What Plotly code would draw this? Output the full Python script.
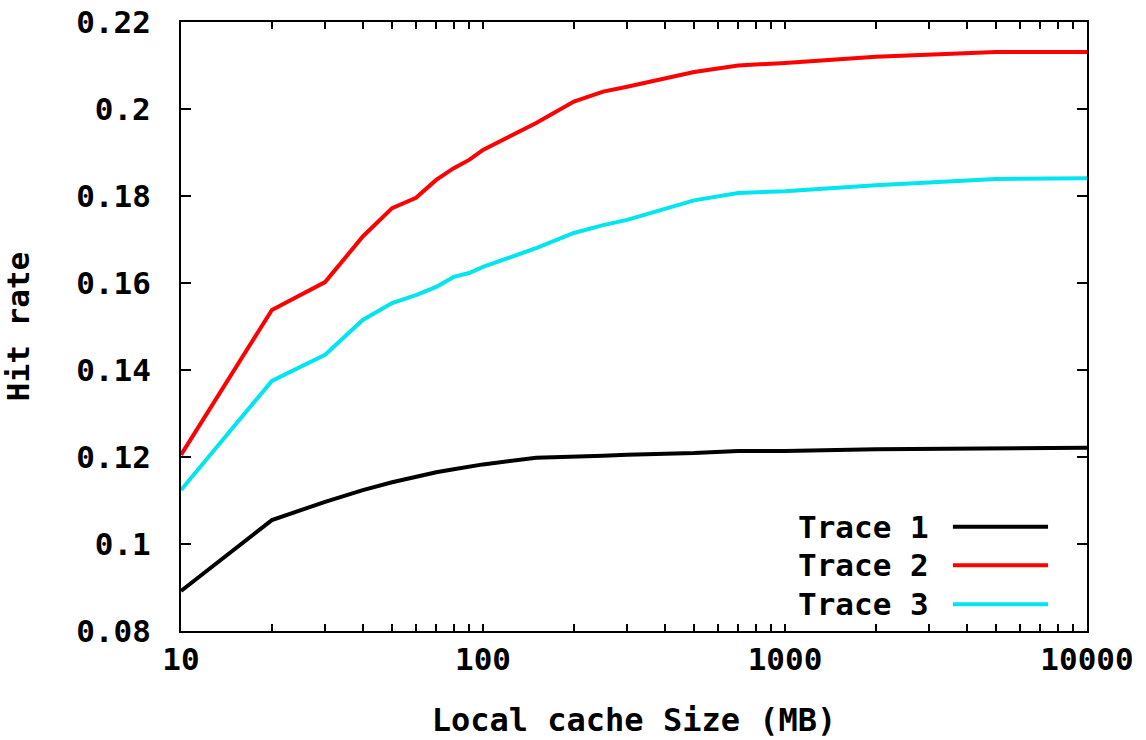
import plotly.graph_objects as go

cache_mb = [10, 20, 30, 40, 50, 60, 70, 80, 90, 100, 150, 200, 250, 300, 500, 700, 1000, 2000, 5000, 10000]
trace1 = [0.0892, 0.1055, 0.1097, 0.1124, 0.1142, 0.1155, 0.1165, 0.1172, 0.1178, 0.1183, 0.1198, 0.1202, 0.1203, 0.1205, 0.1209, 0.1214, 0.1214, 0.1218, 0.1221, 0.1221]
trace2 = [0.1205, 0.1538, 0.1602, 0.1707, 0.1772, 0.1796, 0.1837, 0.1864, 0.1883, 0.1906, 0.1968, 0.2017, 0.2040, 0.2051, 0.2085, 0.2100, 0.2106, 0.2120, 0.2131, 0.2131]
trace3 = [0.1124, 0.1375, 0.1435, 0.1515, 0.1554, 0.1572, 0.1591, 0.1614, 0.1623, 0.1637, 0.1680, 0.1715, 0.1733, 0.1745, 0.1790, 0.1807, 0.1811, 0.1825, 0.1839, 0.1841]

series_names = ["Trace 1", "Trace 2", "Trace 3"]
series_colors = ["#000000", "#ff0000", "#00e5ee"]
y_ticks = [0.08, 0.10, 0.12, 0.14, 0.16, 0.18, 0.20, 0.22]
y_tick_labels = ["0.08", "0.1", "0.12", "0.14", "0.16", "0.18", "0.2", "0.22"]
x_ticks = [10, 20, 30, 40, 50, 60, 70, 80, 90, 100, 200, 300, 400, 500, 600, 700, 800, 900,
           1000, 2000, 3000, 4000, 5000, 6000, 7000, 8000, 9000, 10000]
x_tick_labels = ["10", "", "", "", "", "", "", "", "", "100", "", "", "", "", "", "", "", "",
                 "1000", "", "", "", "", "", "", "", "", "10000"]

FONT = "DejaVu Sans Mono"
FS = 31
fig = go.Figure()
for name, ys, col in zip(series_names, [trace1, trace2, trace3], series_colors):
    fig.add_trace(go.Scatter(x=cache_mb, y=ys, mode="lines", name=name,
                             line=dict(color=col, width=4), showlegend=False))

# custom legend (gnuplot style: text then sample line)
leg_y = [0.171, 0.108, 0.044]
for name, col, yy in zip(series_names, series_colors, leg_y):
    fig.add_annotation(xref="paper", yref="paper", x=0.828, y=yy, text="<b>%s</b>" % name,
                       showarrow=False, xanchor="right", yanchor="middle",
                       font=dict(family=FONT, size=FS, color="black"))
    fig.add_shape(type="line", xref="paper", yref="paper", x0=0.852, x1=0.957, y0=yy, y1=yy,
                  line=dict(color=col, width=4))

fig.update_layout(
    width=1146, height=740,
    margin=dict(l=181, r=59, t=22, b=109),
    paper_bgcolor="white", plot_bgcolor="white",
    font=dict(family=FONT, size=FS, color="black"),
)
fig.update_xaxes(type="log", range=[1, 4], tickmode="array", tickvals=x_ticks,
                 ticktext=["<b>%s</b>" % t if t else "" for t in x_tick_labels],
                 ticks="inside", ticklen=7, tickwidth=2, tickcolor="black",
                 showline=True, linewidth=2, linecolor="black", mirror="ticks",
                 showgrid=False, zeroline=False, automargin=False,
                 title=dict(text="<b>Local cache Size (MB)</b>", standoff=32, font=dict(size=32)))
fig.update_yaxes(range=[0.08, 0.22], tickvals=y_ticks, ticktext=["<b>%s</b>" % t for t in y_tick_labels],
                 ticks="inside", ticklen=10, tickwidth=2, tickcolor="black",
                 showline=True, linewidth=2, linecolor="black", mirror="ticks",
                 showgrid=False, zeroline=False, ticklabelstandoff=22, automargin=False,
                 title=dict(text="<b>Hit rate</b>", standoff=40, font=dict(size=FS)))

fig.write_html("out.html")
